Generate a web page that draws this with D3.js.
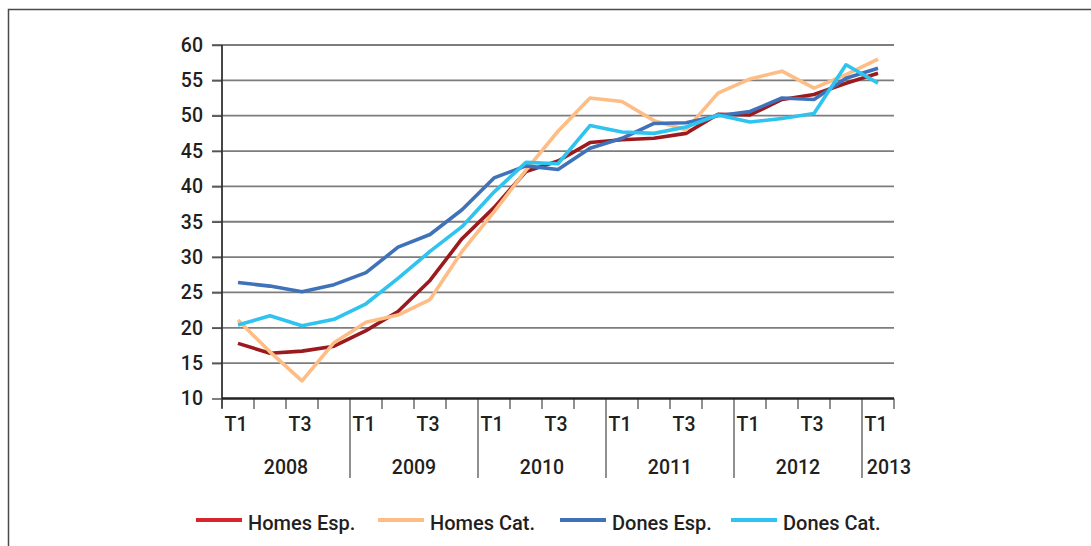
<!DOCTYPE html>
<html>
<head>
<meta charset="utf-8">
<script src="https://cdn.jsdelivr.net/npm/d3@7"></script>
<style>
  html, body { margin: 0; padding: 0; background: #fff; }
  svg text { font-family: Roboto, "Liberation Sans", sans-serif; fill: #231f20; font-weight: 500; }
</style>
</head>
<body>
<div id="chart"></div>
<script>
// Quarters 2008 T1 .. 2013 T1
var years = ["2008", "2009", "2010", "2011", "2012", "2013"];
var quarterLabels = ["T1", "", "T3", ""];
var yTicks = [10, 15, 20, 25, 30, 35, 40, 45, 50, 55, 60];

var homesEsp = [17.8, 16.4, 16.7, 17.4, 19.6, 22.3, 26.7, 32.6, 37.0, 42.1, 43.6,
                46.2, 46.6, 46.8, 47.5, 50.2, 50.1, 52.3, 53.0, 54.6, 56.0];
var homesCat = [21.1, 16.6, 12.5, 17.9, 20.8, 21.8, 24.0, 30.8, 36.4, 42.3, 47.8,
                52.5, 52.0, 49.3, 48.0, 53.2, 55.2, 56.3, 53.9, 55.8, 58.0];
var donesEsp = [26.4, 25.9, 25.1, 26.1, 27.8, 31.4, 33.2, 36.7, 41.2, 42.9, 42.4,
                45.4, 46.8, 48.9, 49.0, 50.0, 50.6, 52.5, 52.3, 55.3, 56.7];
var donesCat = [20.4, 21.7, 20.3, 21.2, 23.4, 27.0, 30.8, 34.3, 39.2, 43.4, 43.2,
                48.6, 47.7, 47.5, 48.4, 50.1, 49.1, 49.6, 50.3, 57.2, 54.6];

var seriesNames = ["Homes Esp.", "Homes Cat.", "Dones Esp.", "Dones Cat."];
var seriesValues = [homesEsp, homesCat, donesEsp, donesCat];
var lineColors = ["#9b1a1e", "#fdbd85", "#3f72b9", "#2fc3ef"];
var legendColors = ["#d6252d", "#fdbd85", "#3f72b9", "#2fc3ef"];

var W = 1091, H = 546;
var plotLeft = 222, plotRight = 894, plotTop = 45, plotBottom = 398.5;

var svg = d3.select("#chart").append("svg")
  .attr("width", W).attr("height", H);

// outer frame
svg.append("rect")
  .attr("x", 8.5).attr("y", 9.5)
  .attr("width", W + 20).attr("height", H + 20)
  .attr("fill", "none").attr("stroke", "#4a4a4a").attr("stroke-width", 1.5);

var nQ = homesEsp.length;
var idx = d3.range(nQ);

var x = d3.scaleBand().domain(idx).range([plotLeft, plotRight]);
var y = d3.scaleLinear().domain([10, 60]).range([plotBottom, plotTop]);

// horizontal gridlines
svg.append("g").selectAll("line")
  .data(yTicks.slice(1))
  .enter().append("line")
  .attr("x1", plotLeft - 10).attr("x2", plotRight)
  .attr("y1", function(d) { return y(d); })
  .attr("y2", function(d) { return y(d); })
  .attr("stroke", "#7d7d7d").attr("stroke-width", 1.8);

var yAxis = svg.append("g")
  .attr("transform", "translate(" + plotLeft + ",0)")
  .call(d3.axisLeft(y).tickValues(yTicks).tickSize(10).tickPadding(9));
yAxis.select(".domain").remove();
yAxis.selectAll(".tick line").attr("stroke", "#555").attr("stroke-width", 1.5);
yAxis.selectAll(".tick text")
  .attr("font-size", "19.5px").attr("fill", "#231f20")
  .attr("font-family", "Roboto, sans-serif");

// y axis line
svg.append("line")
  .attr("x1", plotLeft).attr("x2", plotLeft)
  .attr("y1", plotTop).attr("y2", plotBottom + 10)
  .attr("stroke", "#333").attr("stroke-width", 1.8);

// x axis: quarter ticks, quarter labels, year separators
var bounds = d3.range(nQ + 1);
svg.append("g").selectAll("line")
  .data(bounds)
  .enter().append("line")
  .attr("x1", function(d) { return plotLeft + d * x.bandwidth(); })
  .attr("x2", function(d) { return plotLeft + d * x.bandwidth(); })
  .attr("y1", plotBottom)
  .attr("y2", function(d) { return (d % 4 === 0 && d > 0 && d < nQ) ? 478 : 409; })
  .attr("stroke", "#555").attr("stroke-width", 1.3);

svg.append("g").selectAll("text")
  .data(idx.filter(function(i) { return quarterLabels[i % 4] !== ""; }))
  .enter().append("text")
  .attr("x", function(i) { return x(i) + x.bandwidth() / 2 - 2; })
  .attr("y", 431)
  .attr("text-anchor", "middle")
  .attr("font-size", "19.5px")
  .text(function(i) { return quarterLabels[i % 4]; });

svg.append("g").selectAll("text")
  .data(years)
  .enter().append("text")
  .attr("x", function(d, i) {
    var n = Math.min(4, nQ - i * 4);
    var cx = x(i * 4) + n * x.bandwidth() / 2;
    return n < 4 ? cx + 11 : cx;
  })
  .attr("y", 474)
  .attr("text-anchor", "middle")
  .attr("font-size", "19.5px")
  .text(function(d) { return d; });

// series lines
var line = d3.line()
  .x(function(d, i) { return x(i) + x.bandwidth() / 2; })
  .y(function(d) { return y(d); });

svg.append("g").selectAll("path")
  .data(seriesValues)
  .enter().append("path")
  .attr("d", line)
  .attr("fill", "none")
  .attr("stroke", function(d, i) { return lineColors[i]; })
  .attr("stroke-width", 3.6)
  .attr("stroke-linejoin", "round");

// x axis line on top
svg.append("line")
  .attr("x1", plotLeft).attr("x2", plotRight)
  .attr("y1", plotBottom).attr("y2", plotBottom)
  .attr("stroke", "#222").attr("stroke-width", 2.6);

// legend
var legendX = [196, 378, 560, 731];
var legend = svg.append("g").selectAll("g")
  .data(seriesNames)
  .enter().append("g")
  .attr("transform", function(d, i) { return "translate(" + legendX[i] + ",520)"; });
legend.append("line")
  .attr("x1", 0).attr("x2", 46)
  .attr("stroke", function(d, i) { return legendColors[i]; })
  .attr("stroke-width", 4);
legend.append("text")
  .attr("x", 52).attr("y", 10)
  .attr("font-size", "20px")
  .text(function(d) { return d; });
</script>
</body>
</html>
